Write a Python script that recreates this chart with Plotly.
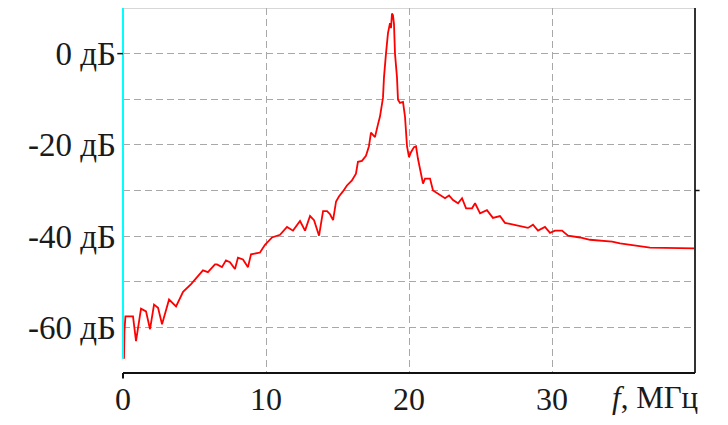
import plotly.graph_objects as go

# frequency, MHz
freq = [0.07, 0.10, 0.17, 0.70, 0.91, 1.26, 1.61, 1.89, 2.17, 2.45, 2.73, 3.22, 3.71,
        4.20, 4.76, 5.38, 5.59, 5.94, 6.43, 6.57, 6.92, 7.20, 7.48, 7.83, 8.04, 8.39,
        8.74, 8.95, 9.58, 9.93, 10.42, 10.98, 11.47, 11.89, 12.38, 12.73, 13.08, 13.36,
        13.71, 13.99, 14.27, 14.48, 14.69, 14.90, 15.10, 15.38, 15.66, 16.01, 16.29,
        16.43, 16.71, 16.99, 17.20, 17.34, 17.62, 17.83, 17.97, 18.18, 18.25, 18.39,
        18.53, 18.67, 18.74, 18.81, 18.88, 18.95, 19.02, 19.16, 19.23, 19.37, 19.58,
        19.72, 19.86, 20.00, 20.14, 20.35, 20.49, 20.63, 20.84, 20.98, 21.12, 21.47,
        21.68, 22.17, 22.52, 22.80, 23.08, 23.43, 23.71, 23.99, 24.41, 24.62, 24.97,
        25.45, 25.87, 26.36, 26.71, 27.06, 27.76, 28.32, 28.67, 29.02, 29.51, 29.86,
        30.21, 30.70, 31.12, 31.96, 32.66, 33.36, 34.20, 34.76, 35.45, 36.15, 36.85,
        40.00]
# level, dB
level = [-66.9, -60.8, -57.6, -57.6, -63.0, -55.9, -56.5, -60.4, -55.0, -55.7, -59.3,
         -53.9, -55.4, -52.2, -50.5, -48.3, -47.5, -47.9, -46.2, -46.2, -46.8, -45.3,
         -45.7, -47.2, -44.7, -45.1, -46.8, -44.0, -43.6, -41.9, -40.3, -39.7, -38.0,
         -38.8, -36.7, -38.8, -35.6, -36.5, -39.9, -34.5, -34.5, -35.2, -36.5, -32.4,
         -31.3, -30.2, -28.9, -27.8, -26.3, -23.7, -23.5, -22.4, -20.3, -17.3, -18.3,
         -15.5, -13.8, -9.7, -5.2, 0.0, 4.5, 6.7, 5.6, 8.8, 8.4, 6.5, 0.0, -5.2, -10.1,
         -10.8, -10.6, -13.8, -20.3, -22.7, -21.6, -20.5, -20.3, -23.1, -26.8, -28.5,
         -27.4, -27.4, -30.0, -31.1, -31.7, -31.1, -32.1, -32.8, -31.7, -33.9, -33.9,
         -32.8, -35.0, -34.3, -36.0, -35.6, -37.1, -37.3, -37.8, -38.2, -37.5, -38.8,
         -38.0, -39.3, -38.8, -38.8, -39.9, -40.3, -40.8, -41.0, -41.2, -41.6, -41.9,
         -42.3, -42.5, -42.7]

x_ticks = [0, 10, 20, 30]
x_tick_text = ["0", "10", "20", "30"]
y_ticks = [-60, -40, -20, 0]
y_tick_text = ["-60 дБ", "-40 дБ", "-20 дБ", "0 дБ"]

FONT = "Liberation Serif"
FS = 33
GRID = "#a8a8a8"
DASH = "7px,4px"

fig = go.Figure()
fig.add_trace(go.Scatter(x=freq, y=level, mode="lines",
                         line=dict(color="#ff0000", width=1.8), showlegend=False))

fig.update_layout(
    width=712, height=409,
    margin=dict(l=115, r=25, t=0, b=39),
    paper_bgcolor="white", plot_bgcolor="white",
    font=dict(family=FONT, size=FS, color="#1a1a1a"),
    xaxis=dict(range=[0, 40], tickmode="array", tickvals=x_ticks, ticktext=x_tick_text,
               showgrid=True, gridcolor=GRID, griddash=DASH, gridwidth=1.3,
               zeroline=False, showline=False, ticks="", ticklabelstandoff=4,
               tickfont=dict(size=32)),
    yaxis=dict(range=[-70, 10], tickmode="array", tickvals=y_ticks, ticktext=y_tick_text,
               showgrid=True, gridcolor=GRID, griddash=DASH, gridwidth=1.3,
               minor=dict(dtick=10, tick0=0, showgrid=True, gridcolor=GRID,
                          griddash=DASH, gridwidth=1.3),
               zeroline=False, showline=False, ticks="", ticklabelstandoff=6),
    shapes=[
        dict(type="line", xref="paper", yref="paper", x0=0, x1=1, y0=1, y1=1,
             line=dict(color="#b0b0b0", width=1.2)),
        dict(type="line", xref="paper", yref="paper", x0=1, x1=1, y0=0, y1=1,
             line=dict(color="#333333", width=2)),
        dict(type="line", xref="paper", yref="paper", x0=0, x1=1, y0=0, y1=0,
             line=dict(color="#111111", width=2)),
        dict(type="line", xref="paper", yref="y", x0=0, x1=0, y0=level[0], y1=10,
             line=dict(color="#00ffff", width=2)),
        dict(type="line", xref="paper", yref="paper", x0=0, x1=0, y0=0, y1=-0.015,
             line=dict(color="#111111", width=2)),
        dict(type="line", xref="paper", yref="y", x0=-0.01, x1=0, y0=0, y1=0,
             line=dict(color="#111111", width=1.5)),
        dict(type="line", xref="paper", yref="y", x0=1, x1=1.008, y0=-30, y1=-30,
             line=dict(color="#111111", width=1.5)),
    ],
    annotations=[
        dict(text="<i>f</i>, МГц", xref="paper", yref="paper", x=0.930, y=-0.068,
             xanchor="center", yanchor="middle", showarrow=False,
             font=dict(family=FONT, size=31, color="#1a1a1a")),
    ],
)

fig.write_html("out.html")
